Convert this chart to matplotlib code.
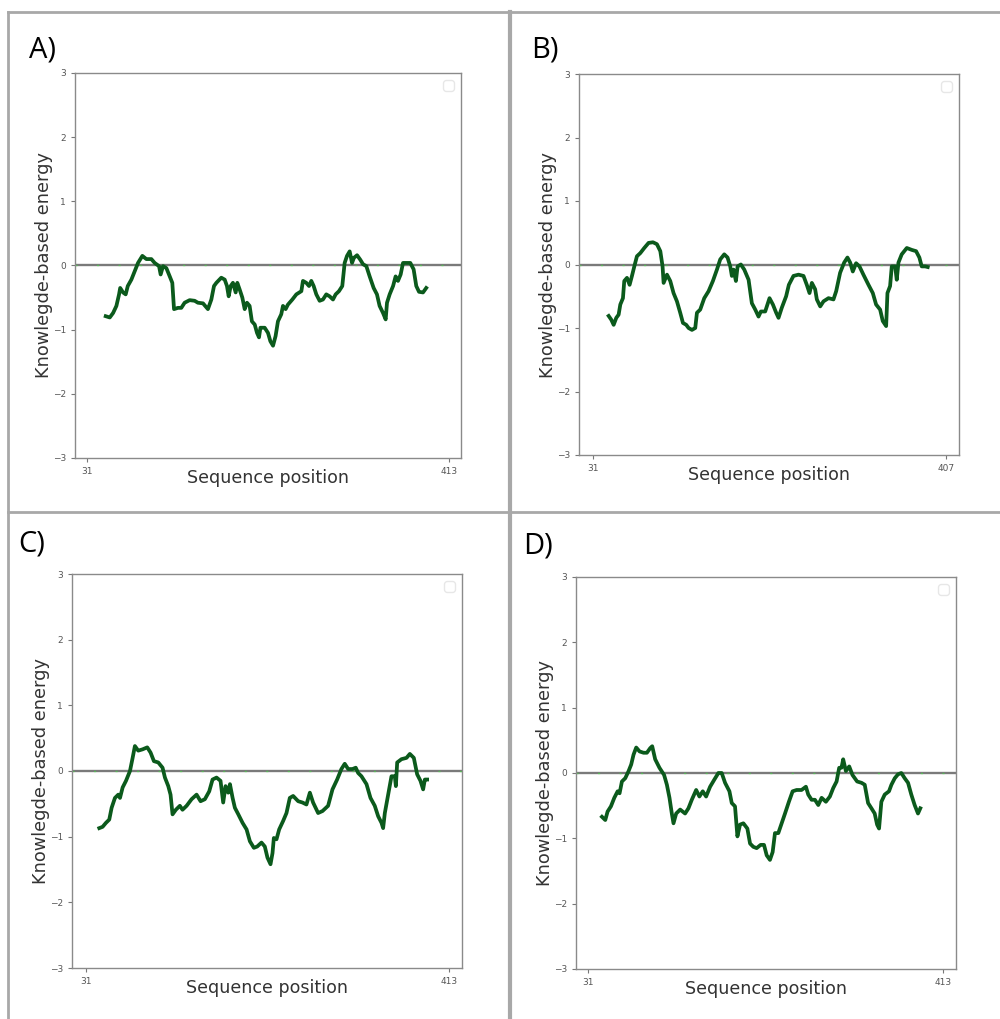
import matplotlib
matplotlib.use("Agg")
import matplotlib.pyplot as plt
from matplotlib.lines import Line2D

a_pos = [50.7, 55, 58.5, 62, 64.8, 66, 69, 71.8, 74, 77.8, 81.3, 84.8, 89.4, 93.6, 98.9, 102.4,
         107, 108.7, 111.2, 114.7, 118.3, 121, 122.8, 127, 130.5, 134, 139.3, 144.6, 148, 153.4,
         158.6, 162.2, 165, 167.5, 172.7, 176.3, 178.7, 180.5, 182.6, 185, 187.9, 189.6, 192,
         194.9, 197.4, 199.8, 202.6, 205, 208, 210.4, 212.5, 214, 218.5, 222, 224.5, 227.3, 230,
         232.5, 236, 237.8, 240.6, 243, 247.7, 251.9, 257.2, 258.9, 262.4, 265.3, 267.7, 270.2,
         273, 276.5, 280, 283.5, 287, 290.6, 293.4, 296.9, 300.4, 302.9, 305.4, 308.2, 310.7,
         312.7, 316, 319.4, 322.3, 325.8, 329.3, 333.5, 337, 339.8, 343.4, 346.2, 347.6, 350.4,
         354, 356.7, 359.2, 362, 364.5, 368, 372.2, 375.7, 378.5, 381.4, 385.6, 389]
a_energy = [-0.79, -0.81, -0.74, -0.63, -0.45, -0.35, -0.42, -0.45, -0.32, -0.22, -0.09, 0.04,
            0.15, 0.10, 0.10, 0.04, -0.01, -0.14, -0.01, -0.04, -0.17, -0.27, -0.68, -0.66, -0.66,
            -0.58, -0.54, -0.55, -0.58, -0.59, -0.68, -0.53, -0.32, -0.27, -0.19, -0.22, -0.32,
            -0.48, -0.32, -0.27, -0.42, -0.27, -0.37, -0.50, -0.68, -0.58, -0.63, -0.87, -0.92,
            -1.05, -1.12, -0.97, -0.97, -1.05, -1.18, -1.25, -1.10, -0.87, -0.76, -0.63, -0.68,
            -0.61, -0.53, -0.45, -0.40, -0.24, -0.27, -0.32, -0.24, -0.32, -0.45, -0.55, -0.53,
            -0.45, -0.48, -0.53, -0.45, -0.40, -0.32, 0.04, 0.15, 0.22, 0.04, 0.12, 0.16, 0.09,
            0.02, -0.01, -0.17, -0.35, -0.45, -0.63, -0.74, -0.84, -0.58, -0.45, -0.32, -0.17,
            -0.24, -0.14, 0.04, 0.04, 0.04, -0.06, -0.32, -0.41, -0.42, -0.35]

b_pos = [47.7, 50.5, 53, 55.8, 58.3, 60.1, 62.9, 64.3, 67.2, 70, 72.5, 75, 77.8, 81.4, 85.6, 90.2,
         94.9, 99.1, 102.7, 105.1, 106.2, 109.8, 113.3, 116.8, 120.4, 123.9, 126.8, 130.3, 132.8,
         136.4, 139.9, 141.7, 145.2, 149.5, 154.1, 158.7, 163, 166.5, 170.8, 174.3, 177.2, 178.9,
         180.7, 183.2, 185, 188.5, 192.1, 196.7, 200.2, 203.8, 207.3, 209.8, 214.4, 219, 222.6,
         226.1, 228.6, 232.1, 236.7, 239.6, 244.5, 249.9, 255.2, 258.7, 261.6, 264.1, 267.6,
         269.4, 273, 276.5, 281.8, 287.1, 290, 294.2, 298.5, 302, 304.9, 307.7, 311.2, 314.8,
         319, 324.4, 329, 332.5, 336.8, 339.6, 343.2, 344.6, 347.4, 349.2, 352.8, 354.5, 356.3,
         359.8, 365.2, 370.5, 375.1, 378.6, 381.1, 384.7, 387.5]
b_energy = [-0.81, -0.87, -0.95, -0.84, -0.79, -0.63, -0.53, -0.26, -0.21, -0.32, -0.18, -0.03,
            0.13, 0.18, 0.26, 0.34, 0.35, 0.32, 0.21, -0.03, -0.29, -0.16, -0.26, -0.45, -0.58,
            -0.76, -0.92, -0.95, -1.00, -1.03, -1.00, -0.76, -0.71, -0.53, -0.42, -0.26, -0.08,
            0.08, 0.16, 0.11, -0.03, -0.18, -0.08, -0.26, -0.03, 0.00, -0.08, -0.24, -0.61,
            -0.71, -0.82, -0.74, -0.74, -0.53, -0.63, -0.76, -0.84, -0.68, -0.50, -0.32, -0.18,
            -0.16, -0.18, -0.32, -0.45, -0.29, -0.39, -0.55, -0.66, -0.58, -0.53, -0.55, -0.42,
            -0.13, 0.03, 0.11, 0.03, -0.11, 0.02, -0.03, -0.16, -0.32, -0.45, -0.63, -0.71,
            -0.89, -0.97, -0.45, -0.34, -0.03, -0.03, -0.24, 0.03, 0.16, 0.26, 0.23, 0.21, 0.11,
            -0.03, -0.03, -0.04]

c_pos = [45, 48.5, 52, 55.5, 58, 61.5, 65, 66.8, 69.6, 73.1, 77.3, 80.1, 82.5, 86, 90.6, 95.5, 99,
         102.5, 107.1, 111.6, 114.1, 117.6, 120, 122.1, 125.6, 129.8, 132.6, 136.9, 142.1, 147.4,
         151.6, 156.1, 160.7, 164.2, 168.4, 172.6, 175.4, 177.9, 180.7, 182.5, 185.3, 187.7,
         191.3, 195.8, 200, 203.5, 207.7, 211.2, 215.7, 219.2, 222, 225.2, 227.3, 228.7, 231.5,
         234.3, 238.5, 242, 245.5, 249, 254.3, 258.8, 263, 266.6, 270, 275.3, 279.9, 285.8,
         290.4, 295.3, 299.8, 303.3, 306.9, 311.4, 314.9, 317.4, 320.9, 326.2, 330.4, 334.9,
         338.5, 342, 343.7, 345.5, 349, 352.5, 356, 357.1, 358.5, 363, 368.3, 371.8, 376, 379.5,
         383, 385.8, 387.6, 390]
c_energy = [-0.87, -0.85, -0.79, -0.74, -0.56, -0.41, -0.36, -0.41, -0.25, -0.15, 0.00, 0.20,
            0.38, 0.31, 0.33, 0.36, 0.28, 0.15, 0.13, 0.05, -0.10, -0.23, -0.36, -0.66, -0.59,
            -0.53, -0.59, -0.53, -0.43, -0.36, -0.46, -0.43, -0.31, -0.13, -0.10, -0.15, -0.48,
            -0.23, -0.33, -0.20, -0.41, -0.56, -0.66, -0.79, -0.89, -1.07, -1.17, -1.15, -1.09,
            -1.15, -1.32, -1.42, -1.25, -1.02, -1.04, -0.89, -0.76, -0.64, -0.41, -0.38, -0.46,
            -0.48, -0.51, -0.33, -0.48, -0.64, -0.61, -0.53, -0.28, -0.13, 0.03, 0.11, 0.03, 0.03,
            0.05, -0.03, -0.08, -0.20, -0.41, -0.53, -0.69, -0.79, -0.87, -0.64, -0.36, -0.08,
            -0.08, -0.23, 0.13, 0.18, 0.20, 0.26, 0.20, -0.05, -0.15, -0.28, -0.13, -0.13]

d_pos = [46, 49.6, 52.1, 55.7, 59.3, 62.9, 65, 67.5, 71.1, 74.7, 77.5, 80, 82.9, 86.5, 90.8, 94.4,
         97.9, 100.1, 103.3, 107.9, 112.9, 115.9, 118.7, 121.2, 123, 125.9, 130.2, 135.5, 139.1,
         142.7, 147.4, 150.9, 154.5, 158.1, 162.4, 167, 171.3, 174.9, 178.5, 183.2, 185.7, 189.2,
         191.8, 194.6, 198.2, 202.5, 205.4, 208.9, 212.5, 216.8, 220.4, 223.3, 226.8, 229.7,
         232.2, 235.8, 239.4, 243, 247.2, 251.2, 255.5, 260.8, 265.5, 268, 271.6, 275.2, 278.8,
         282.4, 287, 291.3, 294.9, 298.5, 301.3, 303.8, 305.6, 308.5, 312.1, 315.6, 320.6,
         325.3, 328.8, 332.4, 336, 339.5, 342.1, 344.2, 346.7, 350.3, 354.9, 357.5, 361.1,
         364.6, 368.2, 371.8, 375.4, 378.9, 382.5, 386.1, 388.6]
d_energy = [-0.67, -0.72, -0.59, -0.51, -0.38, -0.28, -0.31, -0.13, -0.08, 0.03, 0.13, 0.28, 0.39,
            0.33, 0.31, 0.31, 0.38, 0.41, 0.21, 0.08, -0.03, -0.18, -0.38, -0.62, -0.77, -0.62,
            -0.56, -0.62, -0.54, -0.41, -0.26, -0.36, -0.28, -0.36, -0.21, -0.10, 0.00, 0.00,
            -0.15, -0.28, -0.46, -0.51, -0.97, -0.79, -0.77, -0.85, -1.08, -1.13, -1.15, -1.10,
            -1.10, -1.26, -1.33, -1.21, -0.92, -0.92, -0.77, -0.62, -0.44, -0.28, -0.26, -0.26,
            -0.21, -0.33, -0.41, -0.41, -0.49, -0.38, -0.44, -0.36, -0.23, -0.13, 0.08, 0.08,
            0.21, 0.03, 0.10, -0.03, -0.13, -0.15, -0.18, -0.46, -0.54, -0.62, -0.79, -0.85,
            -0.44, -0.33, -0.28, -0.18, -0.08, -0.02, 0.00, -0.08, -0.15, -0.33, -0.49, -0.62,
            -0.54]

rotulos = ["A)", "B)", "C)", "D)"]
xticks_paineis = [[31, 413], [31, 407], [31, 413], [31, 413]]

fig = plt.figure(figsize=(10, 10.19), dpi=100)
W, H = 1000, 1019


def caixa(l, t, r, b):
    # converte pixels (origem no topo) em fracao da figura
    return [l / W, 1 - b / H, (r - l) / W, (b - t) / H]


paineis = [
    dict(pos=a_pos, en=a_energy, box=caixa(75, 73, 461, 458), xlim=(18.3, 425.7), lbl=(29, 58)),
    dict(pos=b_pos, en=b_energy, box=caixa(579, 74, 959, 455), xlim=(16.1, 420.8), lbl=(531, 57)),
    dict(pos=c_pos, en=c_energy, box=caixa(72, 574, 462, 968), xlim=(16.3, 426.7), lbl=(18, 552)),
    dict(pos=d_pos, en=d_energy, box=caixa(576, 577, 956, 969), xlim=(18.1, 427.0), lbl=(523, 553)),
]

for i, p in enumerate(paineis):
    ax = fig.add_axes(p["box"])
    ax.axhline(0, color="#7a7a7a", lw=1.7, zorder=1)
    ax.axhline(0, color="#44dd44", lw=1.0, ls=(0, (1.5, 14)), alpha=0.6, zorder=1.5)
    ax.plot(p["pos"], p["en"], color="#0b5a1c", lw=2.7, zorder=2)
    ax.set_xlim(*p["xlim"])
    ax.set_ylim(-3, 3)
    ax.set_yticks([-3, -2, -1, 0, 1, 2, 3])
    ax.set_xticks(xticks_paineis[i])
    ax.tick_params(labelsize=6.5, labelcolor="#555555", color="#777777", length=3, width=0.8)
    for s in ax.spines.values():
        s.set_color("#8a8a8a")
        s.set_linewidth(1.0)
    ax.set_ylabel("Knowlegde-based energy", fontsize=12.8, color="#333333", labelpad=0)
    ax.set_xlabel("Sequence position", fontsize=12.6, color="#333333", labelpad=-5)
    # legenda vazia: so a caixinha no canto
    ax.legend(handles=[], loc="upper right", frameon=True, edgecolor="#e2e2e2",
              borderpad=0.4, borderaxespad=0.5)
    fig.text(p["lbl"][0] / W, 1 - p["lbl"][1] / H, rotulos[i], fontsize=21,
             family="Open Sans", color="black", va="baseline", ha="left")

# moldura cinza dos quatro paineis
cinza = "#a8a8a8"
linhas = [((8, 1000), (12, 12), 2), ((8, 8), (12, 1019), 2), ((510, 510), (12, 1019), 3),
          ((8, 1000), (512, 512), 2)]
for xs, ys, lw in linhas:
    fig.add_artist(Line2D([x / W for x in xs], [1 - y / H for y in ys], color=cinza, lw=lw))

fig.savefig("out.png", dpi=100)
